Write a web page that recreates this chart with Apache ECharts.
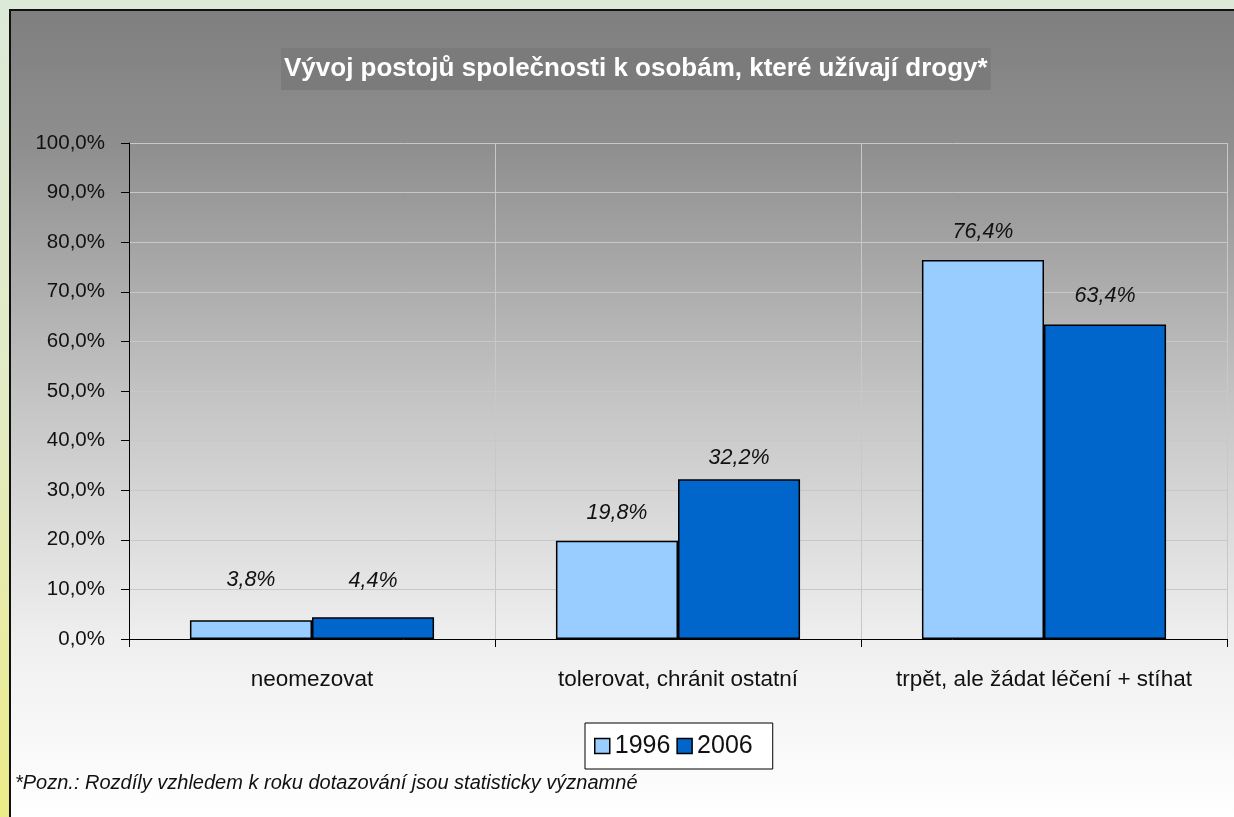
<!DOCTYPE html>
<html>
<head>
<meta charset="utf-8">
<title>Vývoj postojů společnosti</title>
<script src="https://cdn.jsdelivr.net/npm/echarts@6.0.0/dist/echarts.min.js"></script>
<style>
    html,
    body {
        margin: 0;
        padding: 0;
        width: 1234px;
        height: 817px;
        overflow: hidden;
        background: linear-gradient(to bottom, #dde9d8 0%, #e3ebc4 50%, #ecec88 100%);
    }
    .ec-bar {
        position: absolute;
        left: 9px;
        top: 9px;
        width: 1223px;
        height: 806px;
        border-left: 2px solid #111;
        border-top: 2px solid #111;
    }
</style>
</head>
<body>
<div class="ec-bar" id="myChart"></div>
<script>
    // data
    var categories = ["neomezovat", "tolerovat, chránit ostatní", "trpět, ale žádat léčení + stíhat"];
    var seriesNames = ["1996", "2006"];
    var values1996 = [3.8, 19.8, 76.4];
    var values2006 = [4.4, 32.2, 63.4];
    var yTicks = [0, 10, 20, 30, 40, 50, 60, 70, 80, 90, 100];

    var fontFamily = "'Liberation Sans', Arial, sans-serif";
    var labelColor = "#111";

    // label gap above bars (Excel placed them a bit unevenly)
    var labelGap1996 = [29, 17, 17];
    var labelGap2006 = [25, 10, 18];

    function pct(v) {
        return v.toFixed(1).replace(".", ",") + "%";
    }

    function makeSeries(name, data, color, gaps) {
        return {
            name: name,
            type: "bar",
            data: data.map(function (v, i) {
                return { value: v, label: { distance: gaps[i] } };
            }),
            barGap: 0,
            barCategoryGap: "33.3%",
            itemStyle: {
                color: color,
                borderColor: "#000",
                borderWidth: 1.5
            },
            label: {
                show: true,
                position: "top",
                color: labelColor,
                fontFamily: fontFamily,
                fontStyle: "italic",
                fontSize: 21.5,
                lineHeight: 22,
                formatter: function (p) {
                    return pct(p.value);
                }
            }
        };
    }

    var myChart = echarts.init(document.getElementById("myChart"));

    var option = {
        animation: false,
        backgroundColor: new echarts.graphic.LinearGradient(0, 0, 0, 1, [
            { offset: 0, color: "#7f7f7f" },
            { offset: 0.17, color: "#8f8f8f" },
            { offset: 0.48, color: "#c4c4c4" },
            { offset: 0.78, color: "#efefef" },
            { offset: 1, color: "#ffffff" }
        ]),
        title: [
            {
                text: "Vývoj postojů společnosti k osobám, které užívají drogy*",
                left: 270,
                top: 37,
                padding: [8, 3],
                backgroundColor: "#7b7b7b",
                textStyle: {
                    color: "#fff",
                    fontFamily: fontFamily,
                    fontWeight: "bold",
                    fontSize: 26,
                    lineHeight: 26
                }
            },
            {
                text: "*Pozn.: Rozdíly vzhledem k roku dotazování jsou statisticky významné",
                left: 4,
                top: 762,
                padding: 0,
                textStyle: {
                    color: labelColor,
                    fontFamily: fontFamily,
                    fontStyle: "italic",
                    fontWeight: "normal",
                    fontSize: 20,
                    lineHeight: 20
                }
            }
        ],
        legend: {
            data: seriesNames,
            left: 574,
            top: 712,
            orient: "horizontal",
            backgroundColor: "#fff",
            borderColor: "#000",
            borderWidth: 1,
            borderRadius: 0,
            padding: [10, 20, 10, 9],
            itemGap: 6,
            itemWidth: 15,
            itemHeight: 15,
            icon: "rect",
            itemStyle: {
                borderColor: "#000",
                borderWidth: 1.5
            },
            textStyle: {
                color: labelColor,
                fontFamily: fontFamily,
                fontSize: 25,
                lineHeight: 26
            }
        },
        grid: {
            left: 118,
            right: 7,
            top: 132,
            bottom: 178
        },
        xAxis: {
            type: "category",
            data: categories,
            axisLine: {
                // 轴
                lineStyle: { color: "#000", width: 1 }
            },
            axisTick: {
                // 刻度
                show: true,
                interval: 0,
                length: 8,
                lineStyle: { color: "#000" }
            },
            axisLabel: {
                interval: 0,
                color: labelColor,
                fontFamily: fontFamily,
                fontSize: 22.5,
                margin: 29
            },
            splitLine: {
                // 隔线
                show: true,
                interval: 0,
                lineStyle: { color: "#c8c8c8" }
            }
        },
        yAxis: {
            type: "value",
            min: yTicks[0],
            max: yTicks[yTicks.length - 1],
            interval: yTicks[1] - yTicks[0],
            axisLine: {
                show: true,
                lineStyle: { color: "#000", width: 1 }
            },
            axisTick: {
                show: true,
                length: 8,
                lineStyle: { color: "#000" }
            },
            axisLabel: {
                color: labelColor,
                fontFamily: fontFamily,
                fontSize: 20.5,
                margin: 24,
                formatter: function (v) {
                    return pct(v);
                }
            },
            splitLine: {
                show: true,
                lineStyle: { color: "#c8c8c8" }
            }
        },
        series: [
            makeSeries(seriesNames[0], values1996, "#99ccff", labelGap1996),
            makeSeries(seriesNames[1], values2006, "#0066cc", labelGap2006)
        ]
    };

    myChart.setOption(option);
</script>
</body>
</html>
